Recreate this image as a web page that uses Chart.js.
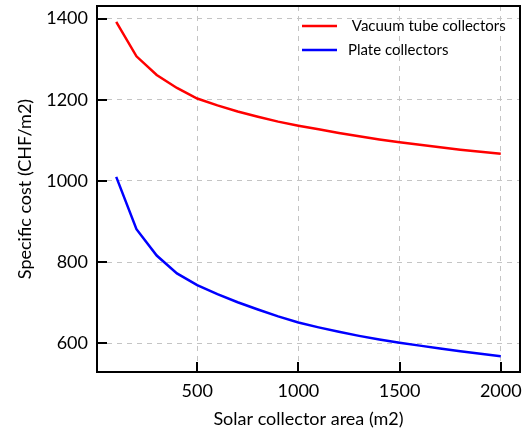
<!DOCTYPE html>
<html>
<head>
<meta charset="utf-8">
<script src="https://cdn.jsdelivr.net/npm/chart.js@4.4.1/dist/chart.umd.min.js"></script>
<style>
    html, body { margin: 0; padding: 0; background: #fff; }
    #wrap { width: 522px; height: 432px; }
</style>
</head>
<body>
<div id="wrap"><canvas id="costChart"></canvas></div>
<script>
// collector area (m2) and specific cost (CHF/m2)
var areas = [100, 200, 300, 400, 500, 600, 700, 800, 900, 1000,
    1100, 1200, 1300, 1400, 1500, 1600, 1700, 1800, 1900, 2000];
var vacuumCost = [1392, 1307, 1261, 1229, 1203, 1186, 1171, 1158, 1146, 1136,
    1127, 1118, 1110, 1102, 1095, 1089, 1083, 1077, 1072, 1067];
var plateCost = [1010, 881, 816, 772, 743, 721, 701, 683, 666, 651,
    639, 628, 618, 609, 601, 594, 587, 580, 574, 568];

var xTicks = [500, 1000, 1500, 2000];
var yTicks = [600, 800, 1000, 1200, 1400];

var FONT = 'Lato, "Open Sans", sans-serif';

function toPoints(ys) {
    return areas.map(function (a, i) { return { x: a, y: ys[i] }; });
}

function plainLabel(v) { return String(v); }

// frame, inward tick marks and an unboxed legend inside the plot
var framePlugin = {
    id: 'frame',
    afterDatasetsDraw: function (chart) {
        var ctx = chart.ctx;
        var a = chart.chartArea;
        var xs = chart.scales.x, ys = chart.scales.y;
        ctx.save();
        ctx.strokeStyle = '#000';
        ctx.lineWidth = 2;
        ctx.beginPath();
        yTicks.forEach(function (v) {
            var py = Math.round(ys.getPixelForValue(v));
            ctx.moveTo(a.left, py);
            ctx.lineTo(a.left + 10, py);
        });
        xTicks.forEach(function (v) {
            var px = Math.round(xs.getPixelForValue(v));
            ctx.moveTo(px, a.bottom);
            ctx.lineTo(px, a.bottom - 10);
        });
        ctx.stroke();
        ctx.strokeRect(a.left, a.top, a.right - a.left, a.bottom - a.top);

        // legend
        ctx.font = '15px ' + FONT;
        ctx.textBaseline = 'middle';
        ctx.textAlign = 'left';
        chart.data.datasets.forEach(function (ds, i) {
            var y = a.top + 20 + i * 24;
            ctx.strokeStyle = ds.borderColor;
            ctx.lineWidth = 2.5;
            ctx.beginPath();
            ctx.moveTo(302, y);
            ctx.lineTo(337, y);
            ctx.stroke();
            ctx.fillStyle = '#000';
            ctx.fillText(ds.label, 348, y);
        });
        ctx.restore();
    }
};

var ctx = document.getElementById('costChart').getContext('2d');
new Chart(ctx, {
    type: 'line',
    data: {
        datasets: [
            {
                label: ' Vacuum tube collectors',
                data: toPoints(vacuumCost),
                borderColor: '#ff0000',
                borderWidth: 2.5,
                pointRadius: 0,
                tension: 0
            },
            {
                label: 'Plate collectors',
                data: toPoints(plateCost),
                borderColor: '#0000ff',
                borderWidth: 2.5,
                pointRadius: 0,
                tension: 0
            }
        ]
    },
    options: {
        responsive: true,
        maintainAspectRatio: false,
        animation: false,
        layout: { padding: { top: 6, right: 2, left: 0, bottom: 0 } },
        plugins: {
            legend: { display: false },
            tooltip: { enabled: false }
        },
        scales: {
            x: {
                type: 'linear',
                min: 5,
                max: 2095,
                afterBuildTicks: function (s) {
                    s.ticks = xTicks.map(function (v) { return { value: v }; });
                },
                afterFit: function (s) {
                    s.height = 60;
                    s.paddingLeft = 0;
                    s.paddingRight = 0;
                },
                border: { display: false, dash: [5, 5] },
                grid: {
                    color: '#c4c4c4',
                    lineWidth: 1,
                    drawTicks: false
                },
                ticks: {
                    color: '#000',
                    padding: 8,
                    maxRotation: 0,
                    callback: plainLabel,
                    font: { family: FONT, size: 18 }
                },
                title: {
                    display: true,
                    text: 'Solar collector area (m2)',
                    color: '#000',
                    padding: { top: 0, bottom: 2 },
                    font: { family: FONT, size: 18 }
                }
            },
            y: {
                type: 'linear',
                min: 529,
                max: 1431,
                afterBuildTicks: function (s) {
                    s.ticks = yTicks.map(function (v) { return { value: v }; });
                },
                afterFit: function (s) {
                    s.width = 97;
                    s.paddingTop = 0;
                    s.paddingBottom = 0;
                },
                border: { display: false, dash: [5, 5] },
                grid: {
                    color: '#c4c4c4',
                    lineWidth: 1,
                    drawTicks: false
                },
                ticks: {
                    color: '#000',
                    padding: 9,
                    callback: plainLabel,
                    font: { family: FONT, size: 18 }
                },
                title: {
                    display: true,
                    text: 'Specific cost (CHF/m2)',
                    color: '#000',
                    padding: { top: 14, bottom: 0 },
                    font: { family: FONT, size: 18 }
                }
            }
        }
    },
    plugins: [framePlugin]
});
</script>
</body>
</html>
